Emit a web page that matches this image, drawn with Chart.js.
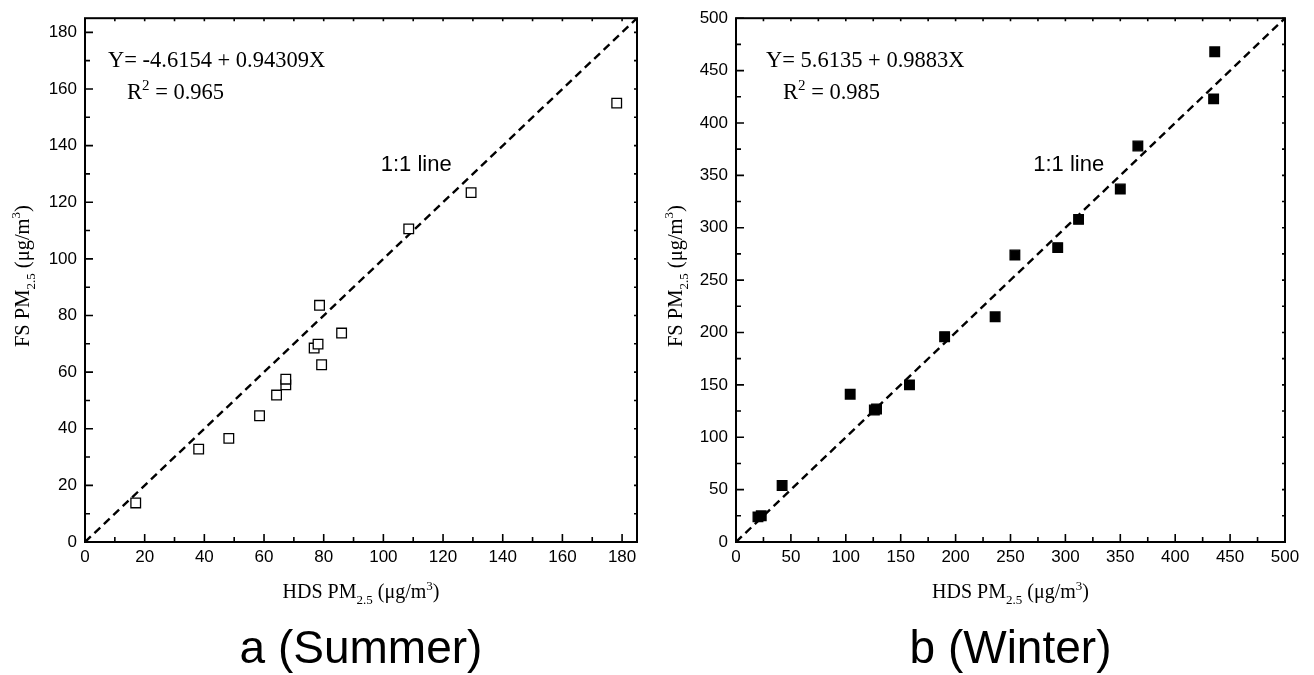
<!DOCTYPE html>
<html>
<head>
<meta charset="utf-8">
<script src="https://cdn.jsdelivr.net/npm/chart.js@4"></script>
<style>
  html, body { margin: 0; padding: 0; background: #fff; }
  #wrap { position: relative; width: 1314px; height: 675px; }
  .panel { position: absolute; top: 0; width: 657px; height: 675px; }
</style>
</head>
<body>
<div id="wrap">
  <div class="panel" style="left:0"><canvas id="summer"></canvas></div>
  <div class="panel" style="left:657px"><canvas id="winter"></canvas></div>
</div>
<script>
// Paired PM2.5 measurements (µg/m3): HDS sampler on x, FS sampler on y
const summerHDS = [17.0, 38.1, 48.2, 58.5, 64.2, 67.3, 67.3, 76.8, 78.1, 79.3, 78.6, 86.0, 108.5, 129.4, 178.2];
const summerFS  = [13.8, 32.8, 36.6, 44.6, 51.9, 55.5, 57.5, 68.5, 69.9, 62.6, 83.6, 73.8, 110.6, 123.4, 155.0];

const winterHDS = [20, 23, 42, 104, 126, 128, 158, 190, 236, 254, 293, 312, 350, 366, 435, 436];
const winterFS  = [24, 25, 54, 141, 126, 127, 150, 196, 215, 274, 281, 308, 337, 378, 423, 468];

// Axis ranges and labelled ticks
const summerRange = [0, 185];
const summerTicks = [0, 20, 40, 60, 80, 100, 120, 140, 160, 180];
const winterRange = [0, 500];
const winterTicks = [0, 50, 100, 150, 200, 250, 300, 350, 400, 450, 500];

// Regression annotations
const summerFit = { eq: 'Y= -4.6154 + 0.94309X', r2: '0.965' };
const winterFit = { eq: 'Y= 5.6135 + 0.9883X', r2: '0.985' };

const panelNames = ['a (Summer)', 'b (Winter)'];
const oneToOneLabel = '1:1 line';

const SERIF = '"Liberation Serif", "Times New Roman", serif';
const SANS = '"Liberation Sans", Arial, sans-serif';

const xTitleParts = [['HDS PM', 0], ['2.5', -1], [' (\u03BCg/m', 0], ['3', 1], [')', 0]];
const yTitleParts = [['FS PM', 0], ['2.5', -1], [' (\u03BCg/m', 0], ['3', 1], [')', 0]];

// Draw a run of text with sub/superscript pieces on a baseline at (x, y)
function richWidth(ctx, parts, size) {
  let w = 0;
  for (const [t, k] of parts) {
    ctx.font = (k ? Math.round(size * 0.65) : size) + 'px ' + SERIF;
    w += ctx.measureText(t).width;
  }
  return w;
}
function drawRich(ctx, parts, x, y, size, align) {
  const w = richWidth(ctx, parts, size);
  let cx = align === 'left' ? x : x - w / 2;
  ctx.textBaseline = 'alphabetic';
  ctx.textAlign = 'left';
  for (const [t, k] of parts) {
    const s = k ? Math.round(size * 0.65) : size;
    ctx.font = s + 'px ' + SERIF;
    const dy = k === -1 ? size * 0.28 : (k === 1 ? -size * 0.42 : 0);
    ctx.fillText(t, cx, y + dy);
    cx += ctx.measureText(t).width;
  }
}

function framePlugin(cfg) {
  return {
    id: 'frame_' + cfg.name,
    afterDatasetsDraw(chart) {
      const { ctx, chartArea: a, scales } = chart;
      const xs = scales.x, ys = scales.y;
      ctx.save();
      ctx.strokeStyle = '#000';
      ctx.fillStyle = '#000';
      ctx.lineWidth = 2;
      ctx.strokeRect(a.left, a.top, a.right - a.left, a.bottom - a.top);

      const major = cfg.ticks;
      const step = major[1] - major[0];
      const minor = major.map(v => v + step / 2).filter(v => v < cfg.range[1]);
      ctx.lineWidth = 1.6;
      ctx.beginPath();
      const tick = (vals, len, inner) => {
        for (const v of vals) {
          const px = xs.getPixelForValue(v);
          const py = ys.getPixelForValue(v);
          ctx.moveTo(px, a.bottom); ctx.lineTo(px, a.bottom - len);
          ctx.moveTo(a.left, py); ctx.lineTo(a.left + len, py);
          ctx.moveTo(px, a.top); ctx.lineTo(px, a.top + inner);
          ctx.moveTo(a.right, py); ctx.lineTo(a.right - inner, py);
        }
      };
      tick(major, 8, 3);
      tick(minor, 5, 3);
      ctx.stroke();

      // regression equation
      ctx.fillStyle = '#000';
      ctx.font = '22.5px ' + SERIF;
      ctx.textAlign = 'left';
      ctx.textBaseline = 'alphabetic';
      ctx.fillText(cfg.fit.eq, a.left + cfg.eqDx, a.top + 49);
      const rx = a.left + cfg.eqDx + cfg.r2Dx;
      drawRich(ctx, [['R', 0], ['2', 1], [' = ' + cfg.fit.r2, 0]], rx, a.top + 81, 22.5, 'left');

      // 1:1 line label
      ctx.font = '22px ' + SANS;
      ctx.textAlign = 'center';
      ctx.textBaseline = 'middle';
      ctx.fillText(oneToOneLabel, xs.getPixelForValue(cfg.labelAt[0]), ys.getPixelForValue(cfg.labelAt[1]));

      // axis titles
      const midX = (a.left + a.right) / 2;
      drawRich(ctx, xTitleParts, midX, a.bottom + 56, 20, 'center');
      ctx.save();
      ctx.translate(cfg.yTitleX, (a.top + a.bottom) / 2 - 4);
      ctx.rotate(-Math.PI / 2);
      drawRich(ctx, yTitleParts, 0, 0, 20.5, 'center');
      ctx.restore();

      // panel caption
      ctx.font = '46px ' + SANS;
      ctx.textAlign = 'center';
      ctx.textBaseline = 'alphabetic';
      ctx.fillText(cfg.caption, midX, a.bottom + 121);
      ctx.restore();
    }
  };
}

function makeChart(id, cfg) {
  const pts = cfg.xs.map((x, i) => ({ x, y: cfg.ys[i] }));
  const setTicks = s => { s.ticks = cfg.ticks.map(v => ({ value: v })); };
  return new Chart(document.getElementById(id), {
    type: 'scatter',
    data: {
      datasets: [
        {
          type: 'line',
          data: [{ x: cfg.range[0], y: cfg.range[0] }, { x: cfg.range[1], y: cfg.range[1] }],
          borderColor: '#000',
          borderWidth: 2.4,
          borderDash: [8, 5],
          pointRadius: 0,
          fill: false,
          order: 2
        },
        {
          data: pts,
          pointStyle: 'rect',
          pointRadius: 6.8,
          pointBorderWidth: 1.3,
          pointBorderColor: '#000',
          pointBackgroundColor: cfg.filled ? '#000' : '#fff',
          order: 1
        }
      ]
    },
    options: {
      responsive: false,
      animation: false,
      events: [],
      layout: { padding: { left: 0, top: 17, right: cfg.padRight, bottom: 0 } },
      plugins: { legend: { display: false }, tooltip: { enabled: false }, title: { display: false } },
      scales: {
        x: {
          type: 'linear', min: cfg.range[0], max: cfg.range[1],
          grid: { display: false, drawTicks: false },
          border: { display: false },
          afterBuildTicks: setTicks,
          afterFit: s => { s.height = 133; },
          ticks: { color: '#000', font: { family: SANS, size: 17 }, padding: 5, maxRotation: 0, autoSkip: false }
        },
        y: {
          type: 'linear', min: cfg.range[0], max: cfg.range[1],
          grid: { display: false, drawTicks: false },
          border: { display: false },
          afterBuildTicks: setTicks,
          afterFit: s => { s.width = cfg.axisW; },
          ticks: { color: '#000', font: { family: SANS, size: 17 }, padding: 8, autoSkip: false }
        }
      }
    },
    plugins: [framePlugin(cfg)]
  });
}

function sizeCanvas(id) {
  const c = document.getElementById(id);
  c.width = 657; c.height = 675;
  c.style.width = '657px'; c.style.height = '675px';
}
sizeCanvas('summer');
sizeCanvas('winter');

makeChart('summer', {
  name: 'summer', xs: summerHDS, ys: summerFS, filled: false,
  range: summerRange, ticks: summerTicks, fit: summerFit,
  axisW: 85, padRight: 20, eqDx: 23, r2Dx: 19, labelAt: [111, 133],
  yTitleX: 29, caption: panelNames[0]
});
makeChart('winter', {
  name: 'winter', xs: winterHDS, ys: winterFS, filled: true,
  range: winterRange, ticks: winterTicks, fit: winterFit,
  axisW: 79, padRight: 29, eqDx: 30, r2Dx: 17, labelAt: [303, 360],
  yTitleX: 25, caption: panelNames[1]
});
</script>
</body>
</html>
